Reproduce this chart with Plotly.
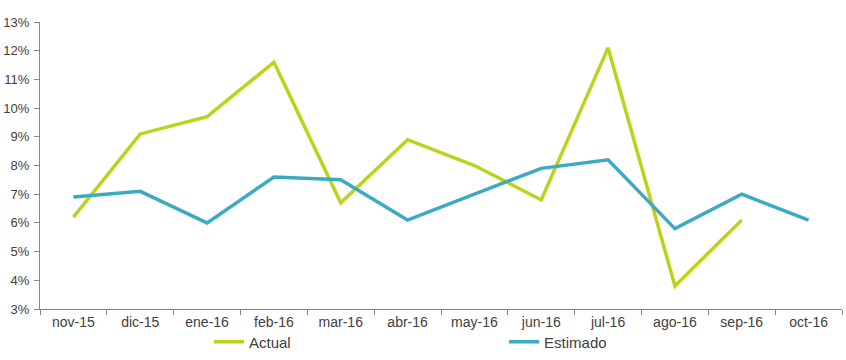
import plotly.graph_objects as go

categories = ["nov-15", "dic-15", "ene-16", "feb-16", "mar-16", "abr-16",
              "may-16", "jun-16", "jul-16", "ago-16", "sep-16", "oct-16"]
actual = [6.2, 9.1, 9.7, 11.6, 6.7, 8.9, 8.0, 6.8, 12.1, 3.8, 6.1, None]
estimado = [6.9, 7.1, 6.0, 7.6, 7.5, 6.1, 7.0, 7.9, 8.2, 5.8, 7.0, 6.1]

GREEN = "#BDD21B"
BLUE = "#3DAAC3"
AXIS = "#868686"
TEXT = "#404040"

fig = go.Figure()
fig.add_trace(go.Scatter(x=categories, y=actual, name="Actual", mode="lines",
                         line=dict(color=GREEN, width=3.5), legend="legend"))
fig.add_trace(go.Scatter(x=categories, y=estimado, name="Estimado", mode="lines",
                         line=dict(color=BLUE, width=3.5), legend="legend2"))

fig.update_layout(
    width=846, height=360,
    margin=dict(l=40, r=4, t=22, b=51, autoexpand=False),
    paper_bgcolor="white", plot_bgcolor="white",
    font=dict(family="Liberation Sans, Arial, sans-serif", size=14, color=TEXT),
    showlegend=True,
    legend=dict(x=0.2107, y=-0.115, xanchor="left", yanchor="middle",
                bgcolor="rgba(0,0,0,0)", font=dict(size=15, color=TEXT)),
    legend2=dict(x=0.5786, y=-0.115, xanchor="left", yanchor="middle",
                 bgcolor="rgba(0,0,0,0)", font=dict(size=15, color=TEXT)),
    xaxis=dict(type="category", range=[-0.5, 11.5], showline=True, linecolor=AXIS,
               linewidth=1, ticks="outside", tickson="boundaries", ticklen=5,
               tickcolor=AXIS, showgrid=False, zeroline=False, automargin=False),
    yaxis=dict(range=[3, 13], dtick=1, ticksuffix="%", showline=True, linecolor=AXIS,
               linewidth=1, ticks="outside", ticklen=5, tickcolor=AXIS,
               tickfont=dict(size=13), ticklabelstandoff=2,
               showgrid=False, zeroline=False, automargin=False),
)

fig.write_html("out.html", config={"displayModeBar": False},
               post_script="document.body.style.margin='0';document.body.style.overflow='hidden';")
